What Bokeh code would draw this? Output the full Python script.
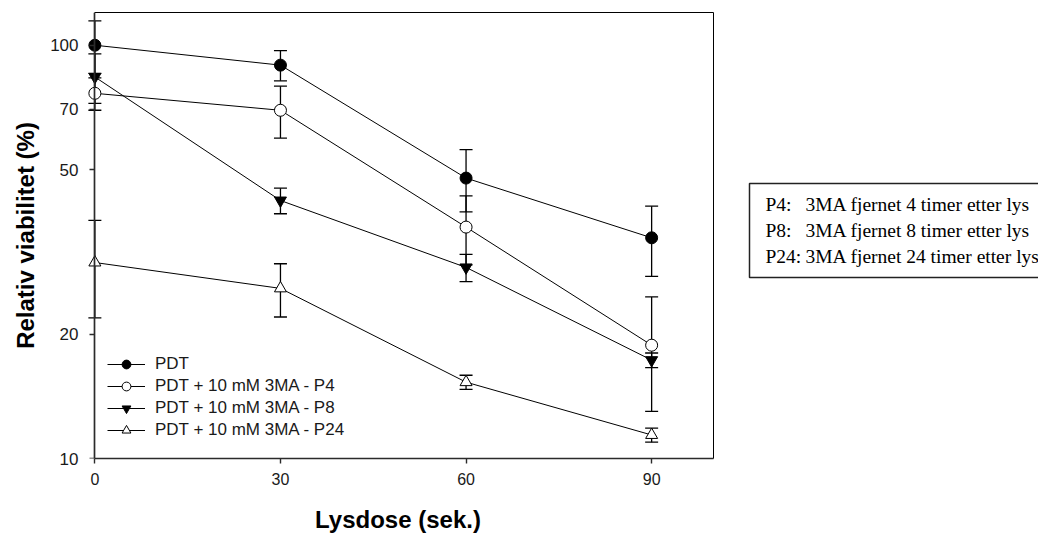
from bokeh.plotting import figure
from bokeh.models import (ColumnDataSource, Whisker, TeeHead, FixedTicker, PrintfTickFormatter,
                          Legend, LegendItem, LinearAxis, LogAxis, Range1d)
from bokeh.layouts import row
from bokeh.embed import file_html
from bokeh.resources import INLINE
from bokeh.core.properties import value

# ---- data ----
doses = [0, 30, 60, 90]
pdt = [100, 89.5, 47.7, 34.2]
pdt_err = [14.5, 7.5, 8.2, 6.6]
p4 = [76.5, 69.6, 36.3, 18.8]
p4_err = [6.9, 10.0, 6.9, 5.8]
p8 = [83.8, 42.1, 29.0, 17.3]
p8_err = [11.5, 3.0, 2.2, 0.7]
p24 = [29.8, 25.8, 15.3, 11.4]
p24_err = [7.9, 3.8, 0.6, 0.45]
series_labels = ["PDT", "PDT + 10 mM 3MA - P4", "PDT + 10 mM 3MA - P8", "PDT + 10 mM 3MA - P24"]
x_ticks = [0, 30, 60, 90]
y_ticks = [10, 20, 50, 70, 100]
note_keys = ["P4:", "P8:", "P24:"]
note_texts = ["3MA fjernet 4 timer etter lys", "3MA fjernet 8 timer etter lys",
              "3MA fjernet 24 timer etter lys"]

SANS = "Liberation Sans"
SERIF = "Liberation Serif"

p = figure(width=730, height=538, x_range=Range1d(-2, 100), y_range=Range1d(10, 120),
           y_axis_type="log", output_backend="svg", toolbar_location=None,
           min_border_left=82, min_border_right=17, min_border_top=12, min_border_bottom=80)
p.grid.visible = False
p.outline_line_color = None
p.background_fill_color = "white"
p.border_fill_color = "white"

# x axis
xa = p.xaxis[0]
xa.ticker = FixedTicker(ticks=x_ticks)
xa.bounds = (0, 100)
# y axis line + ticks, pinned at x = 0 (labels come from a second axis)
ya = p.yaxis[0]
ya.ticker = FixedTicker(ticks=y_ticks)
ya.fixed_location = 0
ya.major_label_text_color = None
ya.major_label_standoff = 0
for ax in (xa, ya):
    ax.axis_line_color = "#2b2b2b"
    ax.axis_line_width = 1.7
    ax.major_tick_line_color = "#2b2b2b"
    ax.major_tick_line_width = 1.4
    ax.major_tick_in = 0
    ax.major_tick_out = 5
    ax.minor_tick_line_color = None
xa.major_label_text_font = SANS
xa.major_label_text_font_size = "16px"
xa.major_label_text_color = "#1a1a1a"
xa.axis_label = "Lysdose (sek.)"
xa.axis_label_text_font = SANS
xa.axis_label_text_font_size = "24px"
xa.axis_label_text_font_style = "bold"
xa.axis_label_text_color = "black"
xa.major_label_standoff = 9
xa.axis_label_standoff = 18

# y labels axis (no line / ticks)
yl = LogAxis(ticker=FixedTicker(ticks=y_ticks), formatter=PrintfTickFormatter(format="%d"),
             axis_line_color=None, major_tick_line_color=None, minor_tick_line_color=None,
             major_tick_in=0, major_tick_out=0, major_label_standoff=4,
             major_label_text_font=SANS, major_label_text_font_size="17px",
             major_label_text_color="#1a1a1a",
             axis_label="Relativ viabilitet (%)", axis_label_text_font=SANS,
             axis_label_text_font_size="24px", axis_label_text_font_style="bold",
             axis_label_text_color="black", axis_label_standoff=8)
p.add_layout(yl, "left")

top_ax = LinearAxis(ticker=FixedTicker(ticks=[]), bounds=(0, 100),
                    major_label_text_color=None,
                    major_tick_line_color=None, minor_tick_line_color=None,
                    axis_line_color="black", axis_line_width=1)
right_ax = LogAxis(ticker=FixedTicker(ticks=[]), major_label_text_color=None,
                   major_tick_line_color=None, minor_tick_line_color=None,
                   axis_line_color="black", axis_line_width=1)
p.add_layout(top_ax, "above")
p.add_layout(right_ax, "right")

series = [
    (pdt, pdt_err, "circle", "black"),
    (p4, p4_err, "circle", "white"),
    (p8, p8_err, "inverted_triangle", "black"),
    (p24, p24_err, "triangle", "white"),
]

items = []
for (vals, errs, marker, fill), lab in zip(series, series_labels):
    src = ColumnDataSource(dict(
        x=doses, y=vals,
        upper=[v + e for v, e in zip(vals, errs)],
        lower=[v - e for v, e in zip(vals, errs)],
    ))
    w = Whisker(source=src, base="x", upper="upper", lower="lower", dimension="height",
                line_color="black", line_width=1.3,
                upper_head=TeeHead(size=13, line_color="black", line_width=1.3),
                lower_head=TeeHead(size=13, line_color="black", line_width=1.3))
    p.add_layout(w)
    lr = p.line("x", "y", source=src, line_color="black", line_width=1)
    sr = p.scatter("x", "y", source=src, marker=marker, size=12, fill_color=fill,
                   line_color="black", line_width=1)
    items.append(LegendItem(label=lab, renderers=[lr, sr]))

legend = Legend(items=items, location=(25, 17), border_line_color=None,
                background_fill_alpha=0, padding=0, margin=0, spacing=0,
                glyph_width=38, glyph_height=22, label_height=22, label_standoff=10,
                label_text_font=SANS, label_text_font_size="17px", label_text_color="#1a1a1a")
p.add_layout(legend)

# ---- side note box (its frame is row-aligned with the main frame: rows 12..458) ----
p2 = figure(width=308, height=538, x_range=Range1d(0, 308), y_range=Range1d(458, 12),
            output_backend="svg", toolbar_location=None, title=None,
            min_border=0, min_border_left=0, min_border_right=0,
            min_border_top=0, min_border_bottom=0,
            x_axis_location=None, y_axis_location=None)
p2.grid.visible = False
p2.outline_line_color = None
p2.quad(left=[19], right=[330], top=[183], bottom=[277], fill_color="white",
        line_color="#222222", line_width=1.5)
ys = [204, 230, 256]
p2.text(x=[35] * 3, y=ys, text=note_keys, text_font=value(SERIF), text_font_size="19.5px",
        text_baseline="middle", text_color="black")
p2.text(x=[75] * 3, y=ys, text=note_texts, text_font=value(SERIF), text_font_size="19.5px",
        text_baseline="middle", text_color="black")

layout = row(p, p2)
open("out.html", "w").write(file_html(layout, INLINE))
